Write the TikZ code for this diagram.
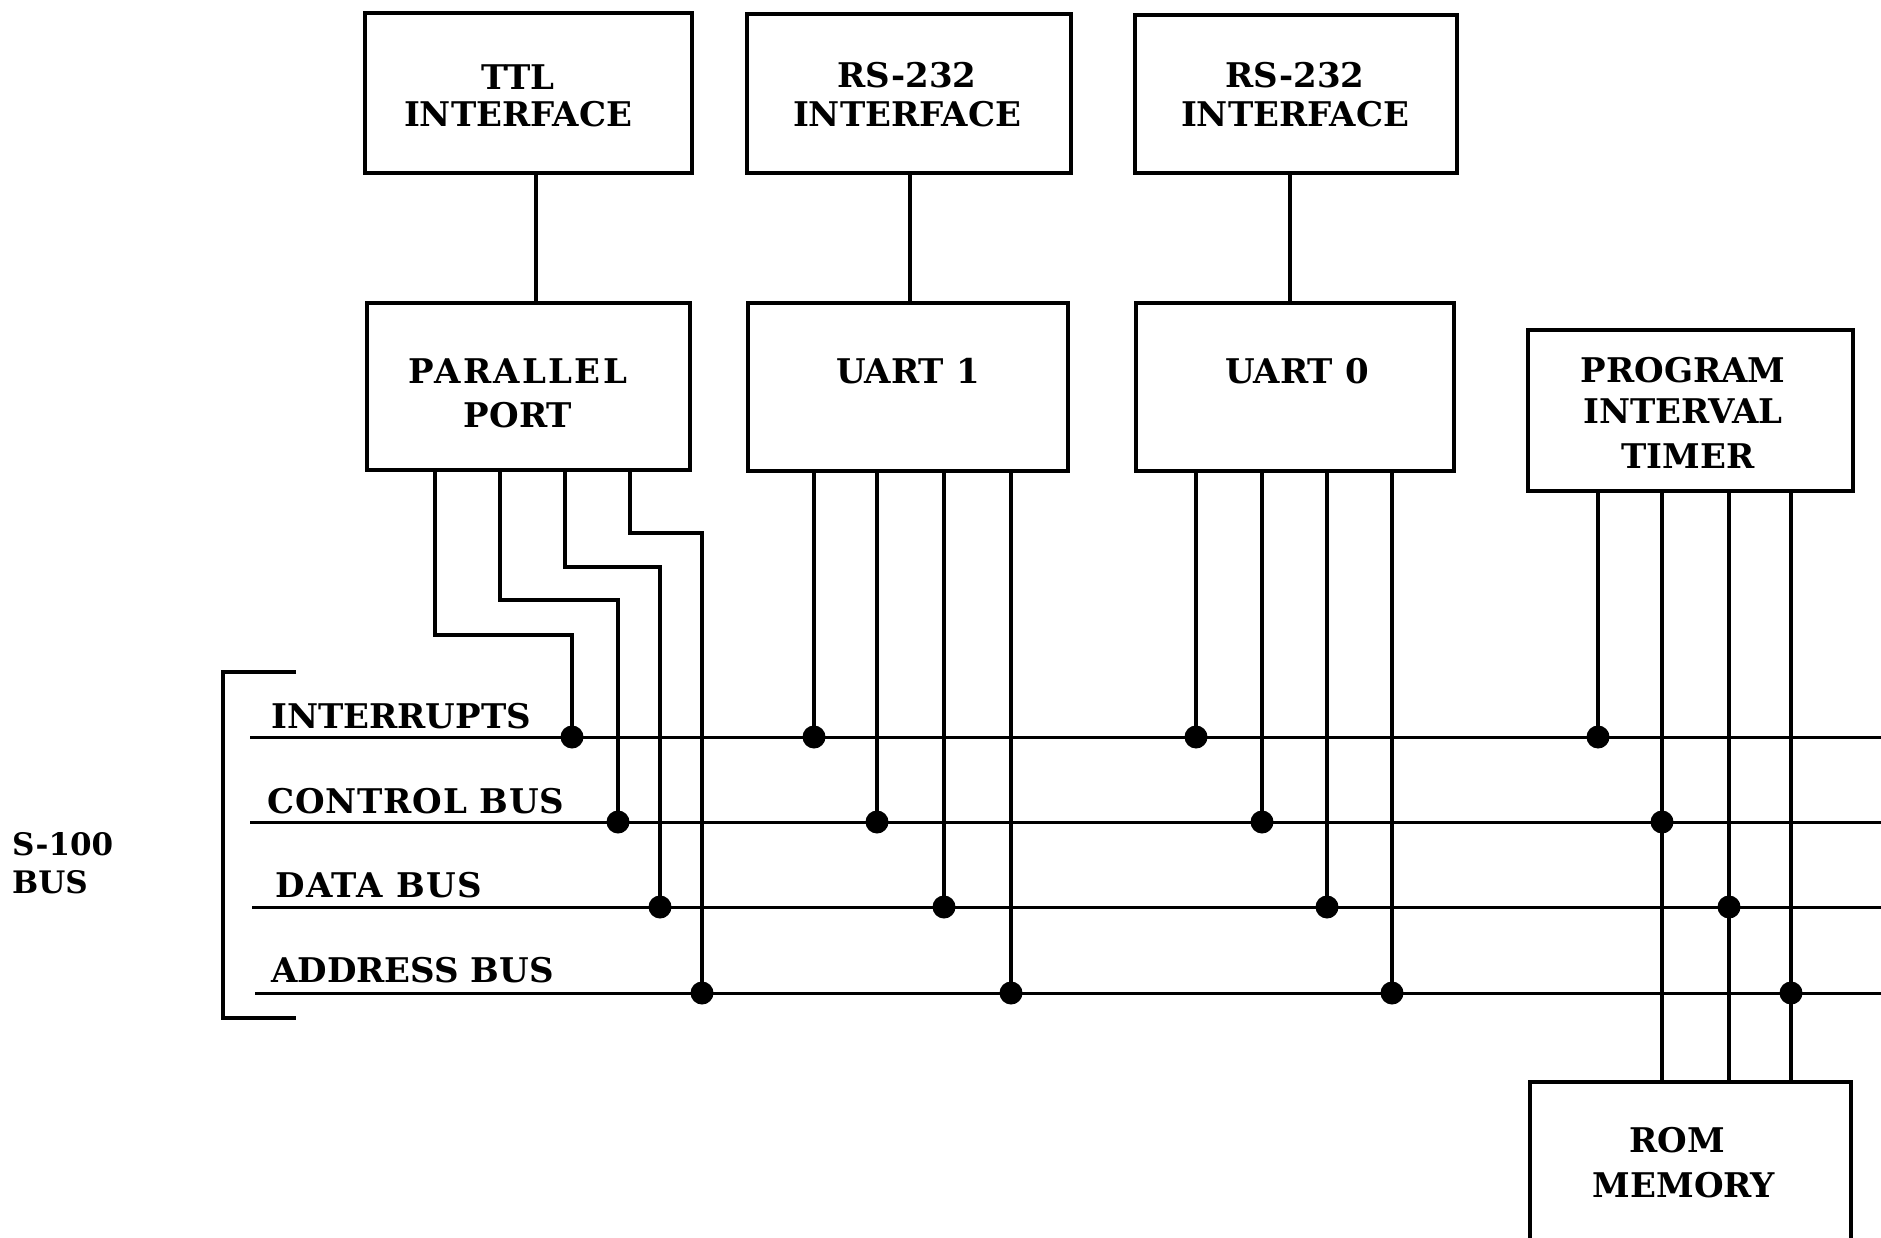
\documentclass[tikz,border=0pt]{standalone}
\usepackage{fontspec}
\setmainfont{DejaVu Serif}
\newcommand{\lblfont}{\fontsize{34}{43}\selectfont\bfseries}
\newcommand{\spc}[1]{\addfontfeature{LetterSpace=#1}}
\tikzset{
  x=1pt, y=-1pt,
  box/.style={draw, line width=4.5pt, inner sep=0pt, rectangle},
  txt/.style={anchor=base, inner sep=0pt, font=\lblfont},
  ltxt/.style={anchor=base west, inner sep=0pt, font=\lblfont},
  wire/.style={line width=4pt},
  bus/.style={line width=3pt},
  dot/.style={circle, fill, inner sep=0pt, minimum size=23pt},
}
\begin{document}
\begin{tikzpicture}
\useasboundingbox (0,0) rectangle (1881,1238);
% top interface boxes
\node[box, minimum width=327, minimum height=160] (ttl) at (528.5,93) {};
\node[box, minimum width=324, minimum height=159] (rs1) at (909,93.5) {};
\node[box, minimum width=322, minimum height=158] (rs0) at (1296,94) {};
\node[txt] (ttlA) at (518,90) {TTL};
\node[txt] (ttlB) at (518,127) {INTERFACE};
\node[txt] (rs1A) at (907,88) {RS-232};
\node[txt] (rs1B) at (907,127) {INTERFACE};
\node[txt] (rs0A) at (1295,88) {RS-232};
\node[txt] (rs0B) at (1295,127) {INTERFACE};
% second row
\node[box, minimum width=323, minimum height=167] (pp) at (528.5,386.5) {};
\node[box, minimum width=320, minimum height=168] (u1) at (908,387) {};
\node[box, minimum width=318, minimum height=168] (u0) at (1295,387) {};
\node[box, minimum width=325, minimum height=161] (pit) at (1690.5,410.5) {};
\node[box, minimum width=321, minimum height=180] (rom) at (1690.5,1172) {};
\node[txt] (ppA) at (518,383) {\spc{7}PARALLEL};
\node[txt] (ppB) at (518,427) {PORT};
\node[txt] (u1A) at (908,383) {UART 1};
\node[txt] (u0A) at (1297,383) {UART 0};
\node[txt] (pitA) at (1683,382) {PROGRAM};
\node[txt] (pitB) at (1683,423) {INTERVAL};
\node[txt] (pitC) at (1688,468) {TIMER};
\node[txt] (romA) at (1677,1152) {ROM};
\node[txt] (romB) at (1684,1197) {MEMORY};
% vertical links between rows
\draw[wire] (ttl.south -| 536,0) -- (pp.north -| 536,0);
\draw[wire] (rs1.south -| 910,0) -- (u1.north -| 910,0);
\draw[wire] (rs0.south -| 1290,0) -- (u0.north -| 1290,0);
% bus lines
\coordinate (intL) at (250,737); \coordinate (intR) at (1881,737);
\coordinate (ctlL) at (250,822); \coordinate (ctlR) at (1881,822);
\coordinate (datL) at (252,907); \coordinate (datR) at (1881,907);
\coordinate (adrL) at (255,993); \coordinate (adrR) at (1881,993);
\draw[bus] (intL) -- (intR);
\draw[bus] (ctlL) -- (ctlR);
\draw[bus] (datL) -- (datR);
\draw[bus] (adrL) -- (adrR);
% bracket
\coordinate (brT) at (296,672); \coordinate (brB) at (296,1018);
\draw[line width=3.5pt] (brT) -- (223,672) -- (223,1018) -- (brB);
% bus labels
\node[ltxt] (lint) at (271,728) {INTERRUPTS};
\node[ltxt] (lctl) at (267,813) {\spc{2.5}CONTROL BUS};
\node[ltxt] (ldat) at (275,897) {\spc{4}DATA BUS};
\node[ltxt] (ladr) at (271,982) {ADDRESS BUS};
\node[ltxt, font=\fontsize{31}{38}\selectfont\bfseries] (s100a) at (12,855) {S-100};
\node[ltxt, font=\fontsize{31}{38}\selectfont\bfseries] (s100b) at (12,893) {BUS};
% dots
\node[dot] (p1) at (572,737) {};
\node[dot] (p2) at (618,822) {};
\node[dot] (p3) at (660,907) {};
\node[dot] (p4) at (702,993) {};
\node[dot] (a1) at (814,737) {};
\node[dot] (a2) at (877,822) {};
\node[dot] (a3) at (944,907) {};
\node[dot] (a4) at (1011,993) {};
\node[dot] (b1) at (1196,737) {};
\node[dot] (b2) at (1262,822) {};
\node[dot] (b3) at (1327,907) {};
\node[dot] (b4) at (1392,993) {};
\node[dot] (c1) at (1598,737) {};
\node[dot] (c2) at (1662,822) {};
\node[dot] (c3) at (1729,907) {};
\node[dot] (c4) at (1791,993) {};
% parallel port wires
\draw[wire] (pp.south -| 435,0) |- (p1 |- 0,635) -- (p1.center);
\draw[wire] (pp.south -| 500,0) |- (p2 |- 0,600) -- (p2.center);
\draw[wire] (pp.south -| 565,0) |- (p3 |- 0,567) -- (p3.center);
\draw[wire] (pp.south -| 630,0) |- (p4 |- 0,533) -- (p4.center);
% uart wires
\foreach \n in {a1,a2,a3,a4} \draw[wire] (u1.south -| \n) -- (\n.center);
\foreach \n in {b1,b2,b3,b4} \draw[wire] (u0.south -| \n) -- (\n.center);
% timer and rom wires
\draw[wire] (pit.south -| c1) -- (c1.center);
\foreach \n in {c2,c3,c4} \draw[wire] (pit.south -| \n) -- (rom.north -| \n);
\end{tikzpicture}
\end{document}
